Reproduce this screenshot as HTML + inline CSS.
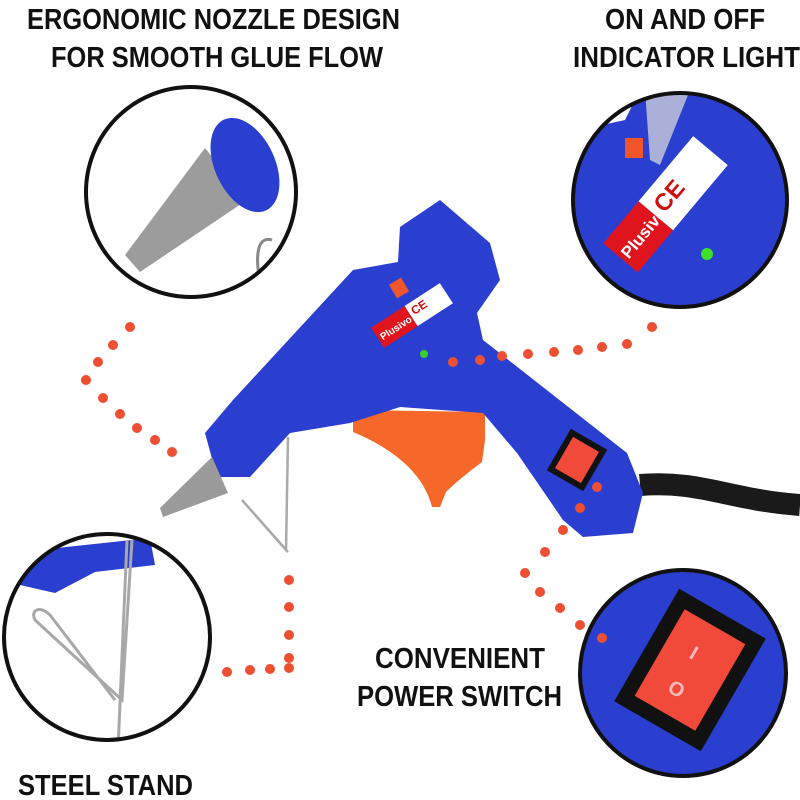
<!DOCTYPE html>
<html><head><meta charset="utf-8"><style>
html,body{margin:0;padding:0;background:#fff;width:800px;height:800px;overflow:hidden}
text{font-family:"Liberation Sans Narrow","Liberation Sans",sans-serif;font-weight:bold;fill:#111}
</style></head><body>
<svg width="800" height="800" viewBox="0 0 800 800" xmlns="http://www.w3.org/2000/svg">
<defs>
<clipPath id="c1"><circle cx="191" cy="192" r="105"/></clipPath>
<clipPath id="c2"><circle cx="680" cy="200" r="107"/></clipPath>
<clipPath id="c3"><circle cx="107" cy="637" r="103"/></clipPath>
<clipPath id="c4"><circle cx="683" cy="673" r="103"/></clipPath>
</defs>
<rect width="800" height="800" fill="#fff"/>
<text x="27" y="29" font-size="29" textLength="373" lengthAdjust="spacingAndGlyphs">ERGONOMIC NOZZLE DESIGN</text>
<text x="51" y="67" font-size="29" textLength="332" lengthAdjust="spacingAndGlyphs">FOR SMOOTH GLUE FLOW</text>
<text x="605" y="29" font-size="29" textLength="160" lengthAdjust="spacingAndGlyphs">ON AND OFF</text>
<text x="573" y="67" font-size="29" textLength="227" lengthAdjust="spacingAndGlyphs">INDICATOR LIGHT</text>
<text x="375" y="668" font-size="29" textLength="170" lengthAdjust="spacingAndGlyphs">CONVENIENT</text>
<text x="357" y="706" font-size="29" textLength="205" lengthAdjust="spacingAndGlyphs">POWER SWITCH</text>
<text x="18" y="795" font-size="29" textLength="175" lengthAdjust="spacingAndGlyphs">STEEL STAND</text>

<path d="M640 485 C700 480 730 500 800 505" stroke="#1a1a1a" stroke-width="22" fill="none"/>
<path d="M353 410 L485 412 L485 440 L482 462 Q458 480 446 492 L440 507 L432 507 Q420 460 353 432 Z" fill="#f5682a"/>
<path d="M205 433 L233 400 L353 270 L398 262 L400 227 L440 200 L490 243 L500 280 L477 313 L483 340 L627 453 L643 493 L633 533 L583 537 L563 520 L517 453 L483 413 L400 407 L350 423 L290 433 L250 477 L217 477 Z" fill="#2a3fd0"/>
<rect x="392" y="280" width="14" height="16" fill="#f0562a" transform="rotate(-30 399 288)"/>
<g transform="rotate(-33 410 318)">
<rect x="372" y="305" width="40" height="24" fill="#e0141c"/>
<rect x="412" y="305" width="42" height="24" fill="#fff"/>
<text x="375" y="322" font-size="10" style="fill:#fff">Plusivo</text>
<text x="415" y="318" font-size="12" style="fill:#d01010">CE</text>
</g>
<circle cx="424" cy="354" r="4" fill="#35d02a"/>
<path d="M212 457 L228 493 L163 517 L160 508Z" fill="#9a9a9a"/>
<path d="M288 437 L286 550 L242 500 L288 552" stroke="#aaa" stroke-width="2.5" fill="none"/>
<g transform="rotate(30 577 460)">
<rect x="556" y="436" width="42" height="48" fill="#111"/>
<rect x="562" y="442" width="30" height="36" fill="#f24a3a"/>
</g>

<g clip-path="url(#c1)">
<rect x="80" y="80" width="230" height="230" fill="#fff"/>
<path d="M205 148 L247 200 L140 272 L125 255Z" fill="#9c9c9c"/>
<ellipse cx="245" cy="165" rx="30" ry="50" fill="#2a3fd0" transform="rotate(-25 245 165)"/>
<path d="M272 240 C255 235 255 262 262 290" stroke="#888" stroke-width="3" fill="none"/>
</g>
<circle cx="191" cy="192" r="105" fill="none" stroke="#111" stroke-width="4"/>
<g clip-path="url(#c2)">
<rect x="570" y="90" width="220" height="220" fill="#2a3fd0"/>
<path d="M570 90 L640 90 L625 120 L570 132Z" fill="#fff"/>
<path d="M645 90 L690 90 L660 165 L650 160Z" fill="#aab0d8"/>
<rect x="625" y="138" width="18" height="20" fill="#f0562a"/>
<g transform="rotate(-50 670 195)">
<rect x="590" y="175" width="55" height="45" fill="#e0141c"/>
<rect x="645" y="175" width="85" height="45" fill="#fff"/>
<text x="594" y="205" font-size="17" style="fill:#fff">Plusivo</text>
<text x="652" y="203" font-size="24" style="fill:#d01010">CE</text>
</g>
<circle cx="707" cy="254" r="6" fill="#3ee02a"/>
</g>
<circle cx="680" cy="200" r="107" fill="none" stroke="#111" stroke-width="4"/>
<g clip-path="url(#c3)">
<rect x="0" y="530" width="215" height="215" fill="#fff"/>
<path d="M20 552 L150 538 L155 565 L95 572 L55 593 L20 585Z" fill="#2a3fd0"/>
<path d="M127 540 L118 750 M132 540 L122 700 L35 620 C30 610 40 605 50 615 L115 700" stroke="#a8a8a8" stroke-width="3" fill="none"/>
</g>
<circle cx="107" cy="637" r="103" fill="none" stroke="#111" stroke-width="4"/>
<g clip-path="url(#c4)">
<rect x="578" y="568" width="210" height="210" fill="#2a3fd0"/>
<g transform="rotate(30 690 670)">
<rect x="640" y="605" width="100" height="130" fill="#111"/>
<rect x="655" y="620" width="70" height="100" fill="#f24a3a"/>
<text x="682" y="660" font-size="20" style="fill:#fbb">I</text>
<text x="680" y="700" font-size="20" style="fill:#fbb">O</text>
</g>
</g>
<circle cx="683" cy="673" r="103" fill="none" stroke="#111" stroke-width="4"/>

<g fill="#ee4f32">
<circle cx="130" cy="327" r="5"/><circle cx="113" cy="345" r="5"/><circle cx="98" cy="362" r="5"/><circle cx="86" cy="380" r="5"/>
<circle cx="103" cy="398" r="5"/><circle cx="120" cy="414" r="5"/><circle cx="137" cy="428" r="5"/><circle cx="155" cy="440" r="5"/><circle cx="172" cy="452" r="5"/>
<circle cx="453" cy="362" r="5"/><circle cx="480" cy="360" r="5"/><circle cx="502" cy="356" r="5"/><circle cx="528" cy="354" r="5"/><circle cx="554" cy="352" r="5"/><circle cx="578" cy="350" r="5"/><circle cx="602" cy="347" r="5"/><circle cx="627" cy="344" r="5"/><circle cx="652" cy="327" r="5"/>
<circle cx="289" cy="580" r="5"/><circle cx="289" cy="607" r="5"/><circle cx="289" cy="635" r="5"/><circle cx="289" cy="658" r="5"/><circle cx="289" cy="668" r="5"/>
<circle cx="227" cy="672" r="5"/><circle cx="250" cy="670" r="5"/><circle cx="270" cy="669" r="5"/>
<circle cx="597" cy="487" r="5"/><circle cx="580" cy="508" r="5"/><circle cx="563" cy="530" r="5"/><circle cx="545" cy="552" r="5"/>
<circle cx="525" cy="573" r="5"/><circle cx="540" cy="592" r="5"/><circle cx="560" cy="608" r="5"/><circle cx="580" cy="625" r="5"/><circle cx="602" cy="638" r="5"/>
</g>
</svg>
</body></html>
